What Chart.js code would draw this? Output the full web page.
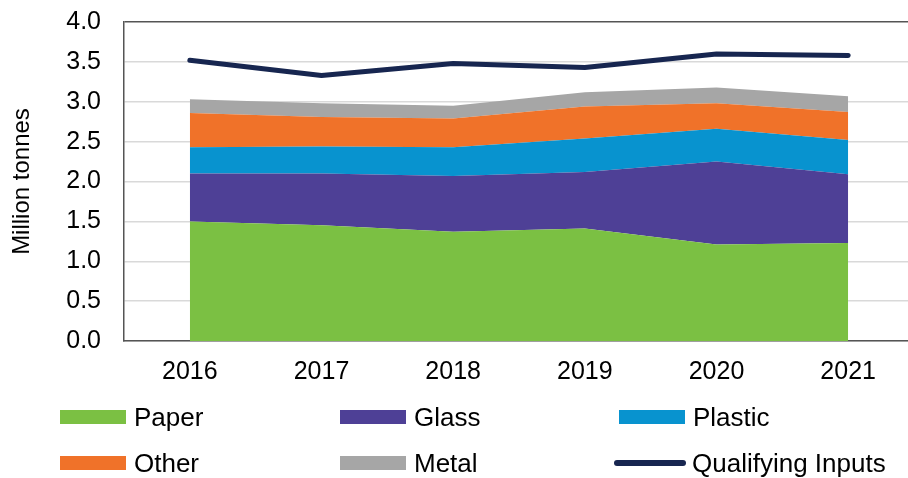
<!DOCTYPE html>
<html>
<head>
<meta charset="utf-8">
<script src="https://cdn.jsdelivr.net/npm/chart.js@4"></script>
<style>
  html, body { margin: 0; padding: 0; background: #fff; overflow: hidden; width: 908px; height: 478px; }
  #wrap { position: absolute; left: 0; top: 0; width: 914px; height: 385px; }
  #legend { position: absolute; left: 0; top: 0; width: 908px; height: 478px; pointer-events: none;
            font-family: "Liberation Sans", Arial, Helvetica, sans-serif; font-size: 26px; color: #000; }
  .item { position: absolute; display: flex; align-items: center; height: 30px; }
  .box { width: 66px; height: 14px; margin-right: 8px; }
  .line { width: 72px; height: 6px; border-radius: 3px; margin-right: 6px; margin-left: -5px; }
</style>
</head>
<body>
<div id="wrap"><canvas id="chart"></canvas></div>
<div id="legend"></div>
<script>
const years = ['2016', '2017', '2018', '2019', '2020', '2021'];
const paper = [1.50, 1.45, 1.37, 1.41, 1.21, 1.23];
const glass = [0.60, 0.65, 0.70, 0.71, 1.04, 0.86];
const plastic = [0.33, 0.34, 0.36, 0.42, 0.41, 0.43];
const other = [0.43, 0.37, 0.36, 0.40, 0.32, 0.35];
const metal = [0.17, 0.17, 0.16, 0.18, 0.20, 0.20];
const qualifying = [3.52, 3.33, 3.48, 3.43, 3.60, 3.58];

const fontFamily = '"Liberation Sans", Arial, Helvetica, sans-serif';

function area(label, data, color, fill) {
    return {
        label: label,
        data: data,
        backgroundColor: color,
        borderColor: color,
        borderWidth: 0,
        pointRadius: 0,
        fill: fill,
        stack: 'materials',
        tension: 0
    };
}

const ctx = document.getElementById('chart').getContext('2d');
const chart = new Chart(ctx, {
    type: 'line',
    data: {
        labels: years,
        datasets: [
            area('Paper', paper, '#7bc043', 'origin'),
            area('Glass', glass, '#4e4096', '-1'),
            area('Plastic', plastic, '#0893cf', '-1'),
            area('Other', other, '#f07229', '-1'),
            area('Metal', metal, '#a6a6a6', '-1'),
            {
                label: 'Qualifying Inputs',
                data: qualifying,
                borderColor: '#172650',
                backgroundColor: '#172650',
                borderWidth: 5,
                borderCapStyle: 'round',
                borderJoinStyle: 'round',
                pointRadius: 0,
                fill: false,
                stack: 'total',
                tension: 0
            }
        ]
    },
    options: {
        responsive: true,
        maintainAspectRatio: false,
        animation: false,
        layout: { padding: { top: 22, right: 0, left: 0, bottom: 0 } },
        plugins: {
            legend: { display: false },
            tooltip: { enabled: false }
        },
        scales: {
            x: {
                offset: true,
                afterFit: function(scale) { scale.height = 44; },
                grid: { display: false },
                border: { display: true, color: '#555555', width: 1.5 },
                ticks: {
                    color: '#000',
                    padding: 8,
                    maxRotation: 0,
                    font: { family: fontFamily, size: 25 }
                }
            },
            y: {
                stacked: true,
                min: 0,
                max: 4,
                afterFit: function(scale) {
                    scale.width = 124;
                    scale.paddingTop = 0;
                    scale.paddingBottom = 0;
                },
                grid: {
                    drawTicks: false,
                    lineWidth: 1.5,
                    color: function(c) { return c.tick && c.tick.value === 4 ? '#555555' : '#d9d9d9'; }
                },
                border: { display: true, color: '#555555', width: 1.5 },
                ticks: {
                    stepSize: 0.5,
                    color: '#000',
                    padding: 23,
                    font: { family: fontFamily, size: 25 },
                    callback: function(v) { return v.toFixed(1); }
                },
                title: {
                    display: true,
                    text: 'Million tonnes',
                    color: '#000',
                    padding: { top: 8, bottom: 0 },
                    font: { family: fontFamily, size: 24 }
                }
            }
        }
    }
});

// legend in a 3-column grid, built from the chart datasets
const legendCols = [60, 340, 619];
const legendRows = [417, 463];
const legendEl = document.getElementById('legend');
chart.data.datasets.forEach(function(ds, i) {
    const item = document.createElement('div');
    item.className = 'item';
    item.style.left = legendCols[i % 3] + 'px';
    item.style.top = (legendRows[Math.floor(i / 3)] - 15) + 'px';
    const sw = document.createElement('span');
    sw.className = ds.fill === false ? 'line' : 'box';
    sw.style.background = ds.borderColor;
    const txt = document.createElement('span');
    txt.textContent = ds.label;
    item.appendChild(sw);
    item.appendChild(txt);
    legendEl.appendChild(item);
});
</script>
</body>
</html>
